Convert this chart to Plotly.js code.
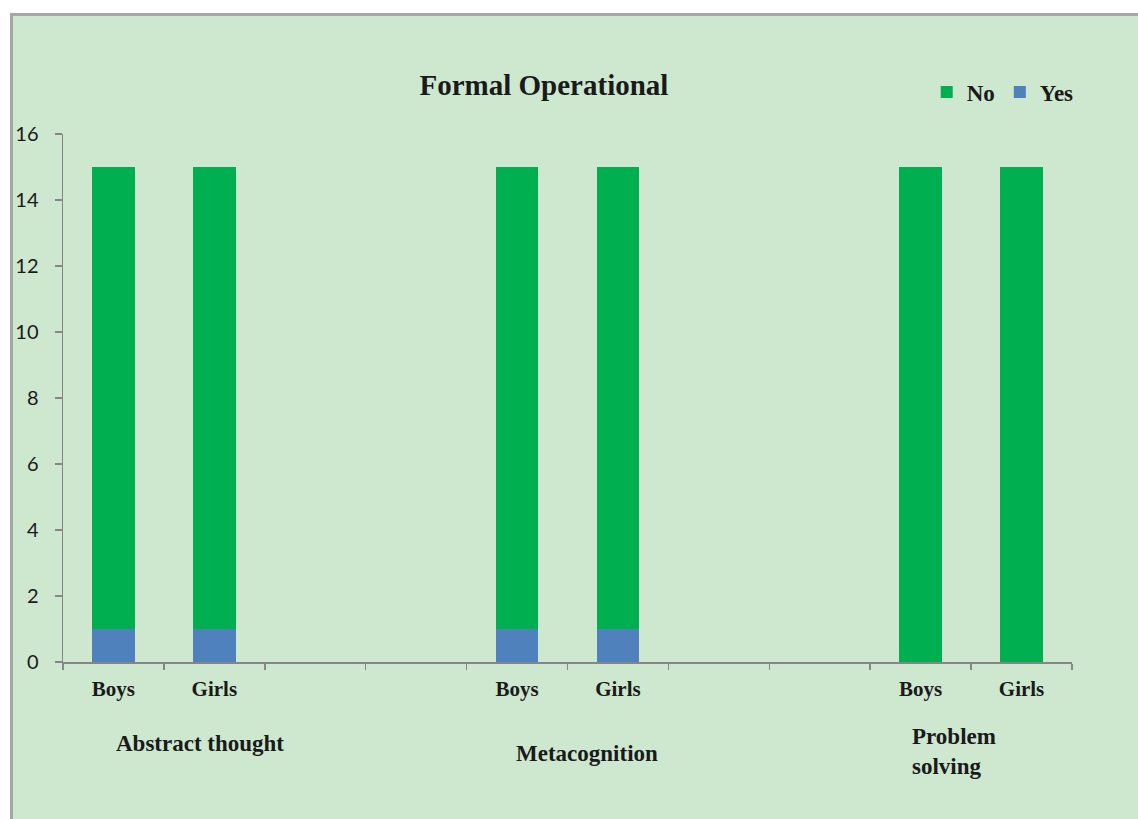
<!DOCTYPE html>
<html>
<head>
<meta charset="utf-8">
<script src="https://cdn.plot.ly/plotly-3.0.1.min.js"></script>
<style>html,body{margin:0;padding:0;background:#fff;}#chart{width:1138px;height:819px;}</style>
</head>
<body>
<div id="chart"></div>
<script>
const chartTitle = 'Formal Operational';
const groups = ['Abstract thought', 'Metacognition', 'Problem<br>solving'];
const genders = ['Boys', 'Girls'];
const yesCounts = [1, 1, 1, 1, 0, 0];
const noCounts = [14, 14, 14, 14, 15, 15];
const gapSlots = 2;

// build category slots: bars per group followed by empty gap slots
const slotKeys = [], slotText = [], barKeys = [];
groups.forEach((g, gi) => {
  genders.forEach(s => { const k = 'g' + gi + '-' + s; slotKeys.push(k); slotText.push(s); barKeys.push(k); });
  if (gi < groups.length - 1) {
    for (let j = 0; j < gapSlots; j++) { const k = 'g' + gi + '-gap' + j; slotKeys.push(k); slotText.push(''); }
  }
});

const serif = 'Liberation Serif, Times New Roman, serif';
const traces = [
  {type: 'bar', name: '<b>Yes</b>', x: barKeys, y: yesCounts, marker: {color: '#4f81bd'}},
  {type: 'bar', name: '<b>No</b>', x: barKeys, y: noCounts, marker: {color: '#00b050'}}
];

// group label positions (category index units)
const groupX = [0.86, 4.69, 7.89];
const groupY = [-0.155, -0.174, -0.169];
const groupAnchor = ['center', 'center', 'left'];
const annotations = groups.map((g, i) => ({
  text: '<b>' + g + '</b>', x: groupX[i], xref: 'x', y: groupY[i], yref: 'paper',
  xanchor: groupAnchor[i], yanchor: 'middle', align: 'left', showarrow: false,
  font: {family: serif, size: 23, color: '#1a1a1a'}
}));

const layout = {
  width: 1138, height: 819,
  paper_bgcolor: '#cde8cf', plot_bgcolor: 'rgba(0,0,0,0)',
  margin: {l: 63, r: 66, t: 134, b: 157, pad: 0},
  barmode: 'stack', bargap: 0.58,
  title: {text: '<b>' + chartTitle + '</b>', x: 0.478, xanchor: 'center', y: 0.896, yanchor: 'middle',
          font: {family: serif, size: 29, color: '#1a1a1a'}},
  showlegend: true,
  legend: {orientation: 'h', traceorder: 'reversed', x: 0.856, xanchor: 'left', y: 1.0795, yanchor: 'middle',
           bgcolor: 'rgba(0,0,0,0)', font: {family: serif, size: 23, color: '#1a1a1a'}, itemwidth: 30},
  xaxis: {type: 'category', categoryorder: 'array', categoryarray: slotKeys,
          tickmode: 'array', tickvals: slotKeys, ticktext: slotText.map(t => t ? '<b>' + t + '</b>' : ''),
          tickson: 'boundaries', ticks: 'outside', ticklen: 6, tickwidth: 1.5, tickcolor: '#868686',
          showline: true, linecolor: '#868686', linewidth: 1.5, showgrid: false, zeroline: false,
          tickfont: {family: serif, size: 21, color: '#1a1a1a'}, ticklabelstandoff: 7,
          range: [-0.5, slotKeys.length - 0.5], fixedrange: true},
  yaxis: {range: [0, 16], dtick: 2, tick0: 0, ticks: 'outside', ticklen: 7, tickwidth: 1.5, tickcolor: '#868686',
          showline: true, linecolor: '#868686', linewidth: 1.5, showgrid: false, zeroline: false,
          tickfont: {family: 'Lato, Open Sans, sans-serif', size: 20, color: '#1a1a1a'}, ticklabelstandoff: 12},
  annotations: annotations,
  shapes: [
    {type: 'rect', xref: 'paper', yref: 'paper', x0: -0.2, x1: 1.2, y0: (662 - 13) / 528, y1: 2, fillcolor: '#ffffff', line: {width: 0}, layer: 'below'},
    {type: 'rect', xref: 'paper', yref: 'paper', x0: -63 / 1009, x1: (10 - 63) / 1009, y0: -0.5, y1: 2, fillcolor: '#ffffff', line: {width: 0}, layer: 'below'},
    {type: 'line', xref: 'paper', yref: 'paper', x0: (11 - 63) / 1009, x1: 1.2, y0: (662 - 14.5) / 528, y1: (662 - 14.5) / 528, line: {color: '#a6a6a6', width: 3}, layer: 'below'},
    {type: 'line', xref: 'paper', yref: 'paper', x0: (11.5 - 63) / 1009, x1: (11.5 - 63) / 1009, y0: -0.5, y1: (662 - 13) / 528, line: {color: '#a6a6a6', width: 3}, layer: 'below'}
  ]
};

Plotly.newPlot('chart', traces, layout, {displayModeBar: false, staticPlot: true});
</script>
</body>
</html>
